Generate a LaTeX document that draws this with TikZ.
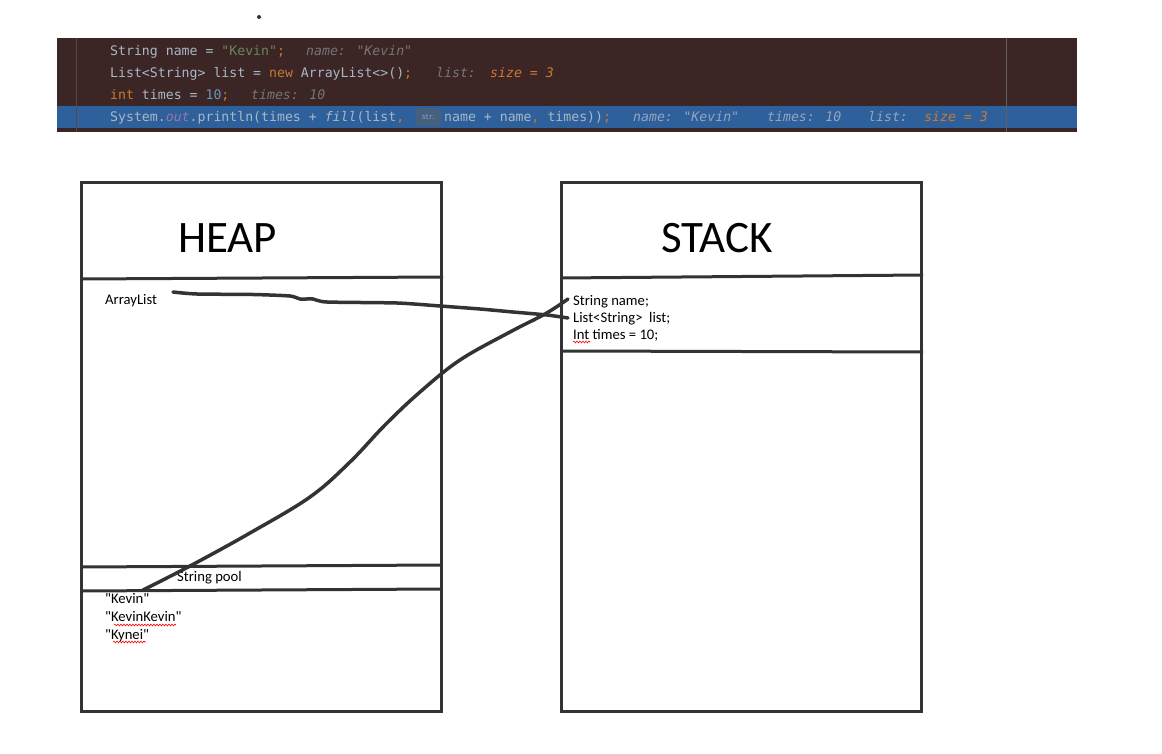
\documentclass[tikz,border=0pt]{standalone}
\usepackage{fontspec}
\setmainfont{Carlito}[Ligatures=TeXOff]
\newfontfamily\codefont{DejaVu Sans Mono}
\usepackage{tikz}
\usetikzlibrary{positioning,decorations.pathmorphing}

\definecolor{panelbg}{RGB}{59,37,37}
\definecolor{rowblue}{RGB}{46,96,155}
\definecolor{codefg}{RGB}{169,183,198}
\definecolor{codestr}{RGB}{106,135,89}
\definecolor{codekey}{RGB}{204,120,50}
\definecolor{codenum}{RGB}{104,151,187}
\definecolor{codeout}{RGB}{152,118,170}
\definecolor{hintgrey}{RGB}{118,118,118}
\definecolor{hintblue}{RGB}{150,165,190}
\definecolor{badgebg}{RGB}{70,96,128}
\definecolor{inkgrey}{RGB}{51,51,51}

\begin{document}
\begin{tikzpicture}[
x=1pt, y=-1pt,
code/.style={
    font=\codefont\fontsize{13.2}{15}\selectfont,
    inner sep=0pt,
    anchor=base west,
    text=codefg
},
hint/.style={code, font=\codefont\fontsize{13.2}{15}\selectfont\itshape, text=hintgrey},
frame/.style={draw=inkgrey, line width=3pt},
title/.style={font=\fontsize{45}{50}\selectfont, inner sep=0pt, anchor=base west},
entry/.style={font=\fontsize{14.67}{17}\selectfont, inner sep=0pt, anchor=base west},
pen/.style={draw=inkgrey, line width=3.5pt, line cap=round, line join=round},
squiggle/.style={draw=red, line width=0.6pt, decorate, decoration={snake, amplitude=0.9pt, segment length=3pt}}
]
\useasboundingbox (0,0) rectangle (1162,754);

% stray dot
\fill[inkgrey] (259,17) circle (2pt);

% debugger panel
\fill[panelbg] (57,38) rectangle (1077,132);
\fill[rowblue] (57,106) rectangle (1077,128);
\draw[draw={rgb,255:red,88;green,72;blue,72}, line width=0.8pt] (76,38) -- (76,132);
\draw[draw={rgb,255:red,95;green,95;blue,100}, line width=0.8pt] (1006,38) -- (1006,132);

\node[code] (line1) at (110,56) {String name = {\color{codestr}"Kevin"}{\color{codekey};}};
\node[hint] (hint1) at (306,56) {name: "Kevin"};

\node[code] (line2) at (110,78) {List<String> list = {\color{codekey}new} ArrayList<>(){\color{codekey};}};
\node[hint] (hint2) at (436,78) {list:};
\node[hint, text=codekey] (hint2b) at (490,78) {size = 3};

\node[code] (line3) at (110,100) {{\color{codekey}int} times = {\color{codenum}10}{\color{codekey};}};
\node[hint] (hint3) at (251,100) {times: 10};

\node[code] (line4) at (110,122) {System.{\color{codeout}\itshape out}.println(times + {\itshape fill}(list{\color{codekey},}};
\node[fill=badgebg, rounded corners=3pt, minimum width=25pt, minimum height=18pt, inner sep=0pt,
      text={rgb,255:red,140;green,156;blue,178}, font=\sffamily\fontsize{9}{10}\selectfont]
      (badge) at (428.5,117) {str:};
\node[code] (line4b) at (444,122) {name + name{\color{codekey},} times)){\color{codekey};}};
\node[hint, text=hintblue] (hint4a) at (633,122) {name: "Kevin"};
\node[hint, text=hintblue] (hint4b) at (767,122) {times: 10};
\node[hint, text=hintblue] (hint4c) at (868,122) {list:};
\node[hint, text=codekey] (hint4d) at (924,122) {size = 3};

% heap
\draw[frame] (81,183) rectangle (441,711);
\draw[frame] (81,279) -- (443,277);
\draw[frame] (81,567) -- (441,565);
\draw[frame] (81,591) -- (441,589);
\node[title] (heap) at (178,252) {HEAP};
\node[entry] (arraylist) at (105,304) {ArrayList};
\node[entry] (pool) at (177,581) {String pool};
\node[entry] (kevin) at (105,603) {"Kevin"};
\node[entry] (kevinkevin) at (105,621) {"KevinKevin"};
\node[entry] (kynei) at (105,639) {"Kynei"};

% stack
\draw[frame] (561,183) rectangle (921,711);
\draw[frame] (561,278) -- (923,275);
\draw[frame] (561,351) -- (923,352);
\node[title] (stack) at (661,252) {STACK};
\node[entry] (sname) at (573,305) {String name;};
\node[entry] (slist) at (573,322) {List<String>\ \ list;};
\node[entry] (stimes) at (573,339) {Int times = 10;};

% spell check marks
\draw[squiggle] (114,625) -- (176,625);
\draw[squiggle] (113,642) -- (146,642);
\draw[squiggle] (573,342) -- (590,342);

% references
\coordinate (arrstart) at (173,292);
\coordinate (listend) at (568,318);
\coordinate (kevinstart) at (143,590);
\coordinate (nameend) at (568,299);
\draw[pen] plot[smooth, tension=0.4] coordinates {(arrstart) (197,294) (253,294.5) (290,296) (300,299) (313,299) (327,302) (397,303) (440,306) (480,309) (513,312) (547,315) (listend)};
\draw[pen] plot[smooth, tension=0.6] coordinates {(kevinstart) (190,566) (250,533) (310,497) (350,462) (385,425) (420,392) (460,360) (510,332) (545,314) (nameend)};
\end{tikzpicture}
\end{document}
